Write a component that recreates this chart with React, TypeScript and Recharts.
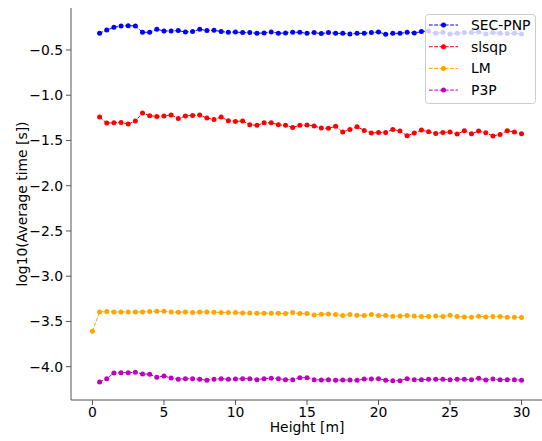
import React from 'react';
import { LineChart, Line, XAxis, YAxis, Legend } from 'recharts';

const heights = [
  0, 0.5, 1, 1.5, 2, 2.5, 3, 3.5, 4, 4.5, 5, 5.5, 6, 6.5, 7, 7.5, 8, 8.5, 9, 9.5,
  10, 10.5, 11, 11.5, 12, 12.5, 13, 13.5, 14, 14.5, 15, 15.5, 16, 16.5, 17, 17.5,
  18, 18.5, 19, 19.5, 20, 20.5, 21, 21.5, 22, 22.5, 23, 23.5, 24, 24.5, 25, 25.5,
  26, 26.5, 27, 27.5, 28, 28.5, 29, 29.5, 30,
];

const secPnp = [
  null,
  -0.315, -0.279, -0.249, -0.235, -0.231, -0.235, -0.304, -0.304, -0.271, -0.29,
  -0.29, -0.286, -0.301, -0.297, -0.271, -0.286, -0.282, -0.297, -0.304, -0.301,
  -0.308, -0.308, -0.315, -0.312, -0.301, -0.315, -0.312, -0.304, -0.304,
  -0.316, -0.308, -0.319, -0.308, -0.316, -0.316, -0.323, -0.316, -0.316, -0.308,
  -0.301, -0.327, -0.316, -0.316, -0.305, -0.312, -0.297, -0.29, -0.316, -0.305,
  -0.323, -0.316, -0.308, -0.308, -0.301, -0.323, -0.308, -0.316, -0.319, -0.316,
  -0.323,
];

const slsqp = [
  null,
  -1.241, -1.308, -1.304, -1.3, -1.319, -1.285, -1.197, -1.226, -1.234, -1.23,
  -1.219, -1.256, -1.23, -1.223, -1.219, -1.252, -1.267, -1.241, -1.282, -1.289,
  -1.285, -1.326, -1.333, -1.304, -1.304, -1.326, -1.333, -1.356, -1.333,
  -1.33, -1.341, -1.363, -1.366, -1.344, -1.407, -1.378, -1.348, -1.389, -1.418,
  -1.411, -1.411, -1.378, -1.396, -1.448, -1.418, -1.385, -1.403, -1.422, -1.411,
  -1.407, -1.429, -1.392, -1.426, -1.396, -1.415, -1.451, -1.433, -1.392, -1.407,
  -1.426,
];

const lm = [
  -3.608,
  -3.395, -3.391, -3.395, -3.395, -3.395, -3.395, -3.395, -3.391, -3.387, -3.387,
  -3.395, -3.398, -3.395, -3.402, -3.395, -3.395, -3.398, -3.402, -3.402, -3.402,
  -3.406, -3.406, -3.409, -3.409, -3.409, -3.409, -3.413, -3.402, -3.413,
  -3.413, -3.428, -3.42, -3.417, -3.424, -3.435, -3.424, -3.431, -3.435, -3.424,
  -3.435, -3.435, -3.442, -3.439, -3.435, -3.439, -3.446, -3.446, -3.439, -3.446,
  -3.431, -3.446, -3.45, -3.453, -3.442, -3.45, -3.446, -3.446, -3.453, -3.453,
  -3.457,
];

const p3p = [
  null,
  -4.169, -4.132, -4.069, -4.066, -4.066, -4.062, -4.08, -4.084, -4.117, -4.103,
  -4.125, -4.139, -4.132, -4.132, -4.139, -4.15, -4.139, -4.132, -4.139, -4.136,
  -4.132, -4.132, -4.143, -4.132, -4.128, -4.132, -4.143, -4.143, -4.121,
  -4.121, -4.143, -4.147, -4.143, -4.15, -4.147, -4.147, -4.15, -4.136, -4.136,
  -4.132, -4.15, -4.154, -4.154, -4.132, -4.143, -4.143, -4.139, -4.139, -4.139,
  -4.143, -4.139, -4.139, -4.143, -4.128, -4.147, -4.136, -4.143, -4.143, -4.143,
  -4.15,
];

const seriesNames = ['SEC-PNP', 'slsqp', 'LM', 'P3P'];
const seriesColors = ['#0000ff', '#ff0000', '#ffa500', '#bf00bf'];
const xTicks = [0, 5, 10, 15, 20, 25, 30];
const yTicks = [-4.0, -3.5, -3.0, -2.5, -2.0, -1.5, -1.0, -0.5];

const data = heights.map((h, i) => ({
  x: h,
  sec: secPnp[i],
  slsqp: slsqp[i],
  lm: lm[i],
  p3p: p3p[i],
}));

const FONT = 'DejaVu Sans, sans-serif';
const AXIS_GREY = '#555';
const FS = 13.9;
const X_DOMAIN: [number, number] = [-1.5, 31.5];
const Y_DOMAIN: [number, number] = [-4.368, -0.036];

const fmtY = (v: number) => v.toFixed(1).replace('-', '\u2212');

const YLabel = (props: any) => {
  const vb = props.viewBox || { x: 0, y: 8, width: 71, height: 392 };
  const cx = 27;
  const cy = vb.y + vb.height / 2;
  return (
    <text
      x={cx}
      y={cy}
      transform={`rotate(-90 ${cx} ${cy})`}
      textAnchor="middle"
      fontSize={FS}
      fill="#000"
      fontFamily={FONT}
    >
      log10(Average time [s])
    </text>
  );
};

const LegendBox = () => {
  return (
    <svg width={112} height={91} style={{ display: 'block' }}>
      <rect
        x={0.5}
        y={0.5}
        width={110}
        height={89}
        rx={3}
        fill="#ffffff"
        fillOpacity={0.8}
        stroke="#cccccc"
        strokeWidth={1}
      />
      {seriesNames.map((name, i) => {
        const cy = 11 + i * 21.7;
        const color = seriesColors[i];
        return (
          <g key={name}>
            <line
              x1={4}
              x2={33}
              y1={cy}
              y2={cy}
              stroke={color}
              strokeWidth={1}
              strokeDasharray="3.7 1.6"
            />
            <circle cx={18.5} cy={cy} r={2.5} fill={color} />
            <text x={46} y={cy + 5} fontSize={FS} fill="#000" fontFamily={FONT}>
              {name}
            </text>
          </g>
        );
      })}
    </svg>
  );
};

const keys = ['sec', 'slsqp', 'lm', 'p3p'];

export default function App() {
  return (
    <div
      style={{
        position: 'absolute',
        left: 0,
        top: 0,
        width: 542,
        height: 441,
        overflow: 'hidden',
        background: '#fff',
        fontFamily: FONT,
      }}
    >
      <LineChart
        width={560}
        height={441}
        data={data}
        margin={{ top: 8, right: 17, bottom: 0, left: 0 }}
        style={{ fontFamily: FONT }}
      >
        <XAxis
          dataKey="x"
          type="number"
          domain={X_DOMAIN}
          ticks={xTicks}
          allowDataOverflow
          height={41}
          tickSize={5}
          tickMargin={2}
          axisLine={{ stroke: AXIS_GREY, strokeWidth: 1 }}
          tickLine={{ stroke: AXIS_GREY, strokeWidth: 1 }}
          tick={{ fill: '#000', fontSize: FS }}
          label={{
            value: 'Height [m]',
            position: 'insideBottom',
            offset: 9,
            fill: '#000',
            fontSize: FS,
          }}
        />
        <XAxis
          xAxisId="top"
          orientation="top"
          dataKey="x"
          type="number"
          domain={X_DOMAIN}
          allowDataOverflow
          height={0}
          tick={false}
          tickLine={false}
          axisLine={{ stroke: AXIS_GREY, strokeWidth: 1 }}
        />
        <YAxis
          type="number"
          domain={Y_DOMAIN}
          ticks={yTicks}
          allowDataOverflow
          width={71}
          tickSize={5}
          tickMargin={3}
          tickFormatter={fmtY}
          axisLine={{ stroke: AXIS_GREY, strokeWidth: 1 }}
          tickLine={{ stroke: AXIS_GREY, strokeWidth: 1 }}
          tick={{ fill: '#000', fontSize: FS }}
          label={YLabel}
        />
        <YAxis
          yAxisId="right"
          orientation="right"
          type="number"
          domain={Y_DOMAIN}
          allowDataOverflow
          width={0}
          tick={false}
          tickLine={false}
          axisLine={{ stroke: AXIS_GREY, strokeWidth: 1 }}
        />
        {keys.map((k, i) => (
          <Line
            key={k}
            dataKey={k}
            name={seriesNames[i]}
            stroke={seriesColors[i]}
            strokeWidth={1}
            strokeDasharray="3.7 1.6"
            dot={{ r: 2.5, fill: seriesColors[i], stroke: seriesColors[i], strokeWidth: 0 }}
            activeDot={false}
            isAnimationActive={false}
            connectNulls
          />
        ))}
        <Legend
          layout="horizontal"
          verticalAlign="middle"
          align="center"
          wrapperStyle={{ position: 'absolute', left: 425, top: 14, width: 112, height: 91 }}
          content={LegendBox}
        />
      </LineChart>
    </div>
  );
}
